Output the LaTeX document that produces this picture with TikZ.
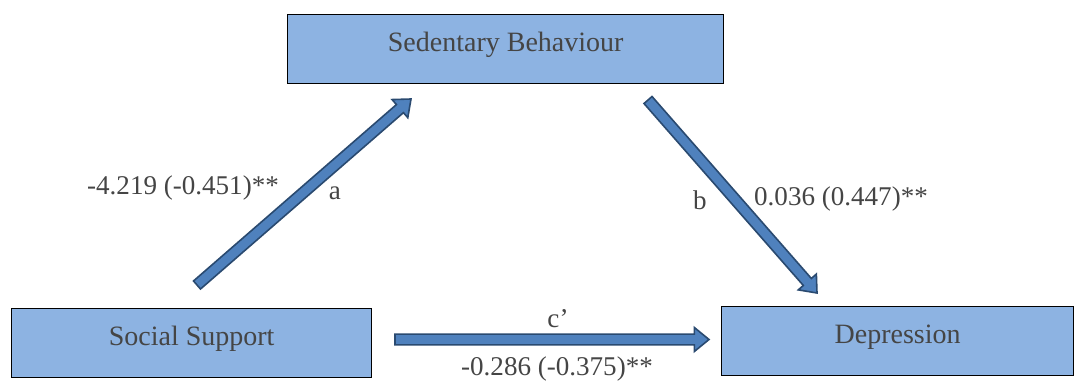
\documentclass[tikz,border=0pt]{standalone}
\usepackage{fontspec}
\setmainfont{Liberation Serif}
\usetikzlibrary{calc}
\definecolor{boxblue}{HTML}{8DB3E2}
\definecolor{arrblue}{HTML}{4F81BD}
\definecolor{arredge}{HTML}{2A4A70}
\definecolor{txtgray}{HTML}{454545}
\newcommand{\blockarrow}[2]{%
\coordinate (hb) at ($(#2)!11pt!(#1)$);
\draw[arr] ($(#1)!4pt!90:(#2)$)--($(hb)!4pt!90:(#2)$)--($(hb)!9pt!90:(#2)$)--(#2)--($(hb)!9pt!-90:(#2)$)--($(hb)!4pt!-90:(#2)$)--($(#1)!4pt!-90:(#2)$)--cycle;}

\begin{document}
\begin{tikzpicture}[x=0.75pt,y=-0.75pt, box/.style={draw=black,fill=boxblue,line width=1pt,inner sep=0pt,anchor=north west,minimum height=51.75pt,text=txtgray,font=\fontsize{21}{25}\selectfont}, lbl/.style={anchor=base,inner sep=0pt,text=txtgray,font=\fontsize{20.3}{24}\selectfont}, arr/.style={draw=arredge,fill=arrblue,line width=1.2pt,line join=miter}]
\useasboundingbox (0,0) rectangle (1075,381);
\node[box,minimum width=327pt,text height=27.75pt,text depth=24pt] (sb) at (287,14) {Sedentary Behaviour};
\node[box,minimum width=270pt,text height=27.75pt,text depth=24pt] (ss) at (11,308) {Social Support};
\node[box,minimum width=264pt,text height=27.75pt,text depth=24pt] (dep) at (721,306) {Depression};
% arrow ends
\coordinate (a0) at (197,285); \coordinate (a1) at (411,99);
\coordinate (b0) at (648,100); \coordinate (b1) at (817,293);
\coordinate (c0) at (395,339.5); \coordinate (c1) at (709,339.5);
\blockarrow{a0}{a1} \blockarrow{b0}{b1} \blockarrow{c0}{c1}
\node[lbl] (ac) at (183,195) {-4.219 (-0.451)**};
\node[lbl] (an) at (335,200) {a};
\node[lbl] (bn) at (700,210) {b};
\node[lbl] (bc) at (841,206) {0.036 (0.447)**};
\node[lbl] (cn) at (558,327) {c’};
\node[lbl] (cc) at (557,375) {-0.286 (-0.375)**};
\end{tikzpicture}
\end{document}
